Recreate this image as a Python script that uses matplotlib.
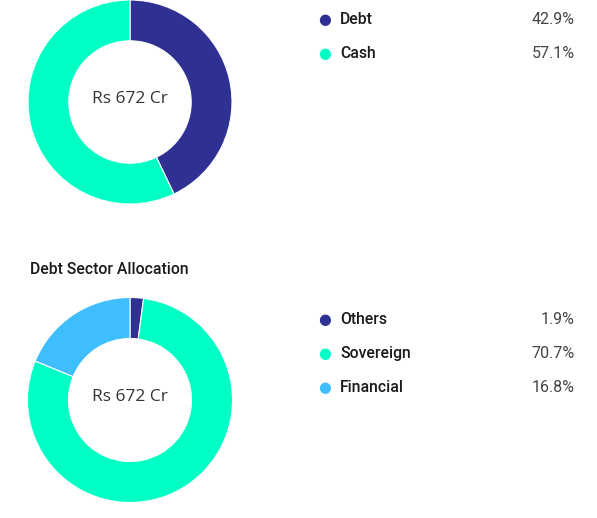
import matplotlib
matplotlib.use("Agg")
import matplotlib.pyplot as plt

# Data
asset_labels = ["Debt", "Cash"]
asset_values = [42.9, 57.1]
sector_labels = ["Others", "Sovereign", "Financial"]
sector_values = [1.9, 70.7, 16.8]
center_text = "Rs 672 Cr"
sector_title = "Debt Sector Allocation"

asset_colors = ["#2E3192", "#00FFC5"]
sector_colors = ["#2E3192", "#00FFC5", "#3FBEFF"]

W, H = 597, 518
fig = plt.figure(figsize=(W / 100, H / 100), dpi=100)
fig.patch.set_facecolor("white")

def px_axes(x0, y0, w, h):
    return fig.add_axes([x0 / W, 1 - (y0 + h) / H, w / W, h / H])

def donut(cx, cy, r, values, colors):
    ax = px_axes(cx - r, cy - r, 2 * r, 2 * r)
    ax.pie(values, colors=colors, startangle=90, counterclock=False,
           radius=1.0, wedgeprops=dict(width=0.4, edgecolor="white", linewidth=0.8))
    ax.set_xlim(-1, 1)
    ax.set_ylim(-1, 1)
    ax.set_aspect("equal")
    ax.axis("off")
    ax.text(0, 0.03, center_text, ha="center", va="center", fontsize=12.5,
            color="#333333", family="Open Sans")
    return ax

donut(130, 102, 102, asset_values, asset_colors)
donut(130, 400, 102.5, sector_values, sector_colors)

def legend(y_start, labels, values, colors):
    for i, (lab, val, col) in enumerate(zip(labels, values, colors)):
        y = y_start + i * 34
        fig.text(325 / W, 1 - y / H, "\u25CF", color=col, fontsize=10.5,
                 ha="center", va="center", family="DejaVu Sans")
        fig.text(340 / W, 1 - (y + 0.5) / H, lab, color="#1a1a1a", fontsize=11.3,
                 ha="left", va="center", family="Roboto", fontweight="medium")
        fig.text(575 / W, 1 - (y + 0.5) / H, f"{val}%", color="#444444", fontsize=11.5,
                 ha="right", va="center", family="Roboto")

legend(19, asset_labels, asset_values, asset_colors)
legend(319, sector_labels, sector_values, sector_colors)

fig.text(30 / W, 1 - 269 / H, sector_title, color="#1a1a1a", fontsize=11.3,
         ha="left", va="center", family="Roboto", fontweight="medium")

fig.savefig("out.png", dpi=100, facecolor="white")
